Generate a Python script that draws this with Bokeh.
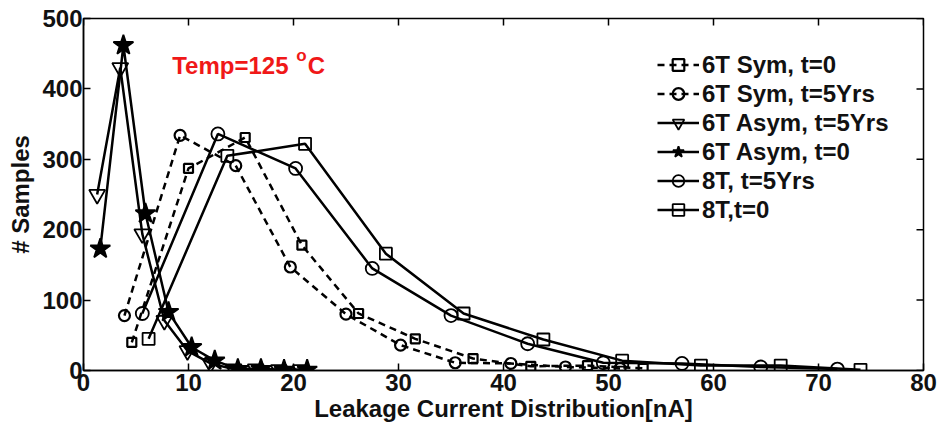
from bokeh.plotting import figure
from bokeh.models import Range1d, Label, Legend, LegendItem, FixedTicker
from bokeh.embed import file_html
from bokeh.resources import INLINE

# ---- data ----
sym_t0_x = [4.6, 10.0, 15.4, 20.8, 26.2, 31.6, 37.1, 42.6, 48.0, 53.3]
sym_t0_y = [40, 287, 331, 178, 81, 45, 17, 6, 7, 3]

sym_t5_x = [3.9, 9.2, 14.5, 19.7, 25.0, 30.2, 35.4, 40.7, 45.9, 51.1]
sym_t5_y = [78, 334, 291, 147, 80, 36, 11, 10, 5, 3]

asym_t5_x = [1.3, 3.5, 5.6, 7.7, 9.9, 12.1, 14.3, 16.4, 18.6, 20.7]
asym_t5_y = [250, 430, 194, 71, 28, 10, 2, 2, 1, 1]

asym_t0_x = [1.6, 3.8, 5.9, 8.1, 10.3, 12.5, 14.7, 16.9, 19.1, 21.3]
asym_t0_y = [173, 462, 223, 83, 33, 14, 2, 2, 1, 1]

t8_t5_x = [5.6, 12.8, 20.2, 27.5, 35.0, 42.3, 49.5, 57.0, 64.5, 71.8]
t8_t5_y = [81, 336, 287, 145, 78, 38, 11, 10, 5, 2]

t8_t0_x = [6.2, 13.7, 21.1, 28.8, 36.2, 43.8, 51.3, 58.8, 66.4, 74.0]
t8_t0_y = [45, 305, 322, 166, 81, 44, 14, 7, 7, 1]

x_ticks = [0, 10, 20, 30, 40, 50, 60, 70, 80]
y_ticks = [0, 100, 200, 300, 400, 500]
X_MIN, X_MAX = 0, 80
Y_MIN, Y_MAX = 0, 500

FONT = "Liberation Sans"
TXT = "#111111"

W, H = 941, 429
ML, MR, MT, MB = 83, 18, 18, 59

p = figure(width=W, height=H, output_backend="svg", toolbar_location=None,
           x_range=Range1d(X_MIN, X_MAX), y_range=Range1d(Y_MIN, Y_MAX),
           min_border_left=ML, min_border_right=MR, min_border_top=MT, min_border_bottom=MB)
p.xgrid.visible = False
p.ygrid.visible = False
p.outline_line_color = "black"
p.outline_line_width = 1.5
p.background_fill_color = "white"
p.border_fill_color = "white"

def style_axis(ax):
    ax.axis_line_color = "black"
    ax.axis_line_width = 1.5
    ax.major_tick_in = 7
    ax.major_tick_out = 0
    ax.major_tick_line_width = 1.5
    ax.minor_tick_line_color = None
    ax.major_label_text_font = FONT
    ax.major_label_text_font_style = "bold"
    ax.major_label_text_font_size = "24px"
    ax.major_label_text_color = TXT
    ax.axis_label_text_font = FONT
    ax.axis_label_text_font_style = "bold"
    ax.axis_label_text_font_size = "24px"
    ax.axis_label_text_color = TXT

p.xaxis.ticker = FixedTicker(ticks=x_ticks)
p.yaxis.ticker = FixedTicker(ticks=y_ticks)
style_axis(p.xaxis[0])
style_axis(p.yaxis[0])
p.xaxis.axis_label = "Leakage Current Distribution[nA]"
p.yaxis.axis_label = "# Samples"
p.xaxis.major_label_standoff = 3
p.xaxis.axis_label_standoff = 1
p.yaxis.major_label_standoff = 1
p.yaxis.axis_label_standoff = 5

# inward tick marks on the top and right frame edges (7 px long)
frame_w = W - ML - MR
frame_h = H - MT - MB
tx = 7 * (X_MAX - X_MIN) / frame_w
ty = 7 * (Y_MAX - Y_MIN) / frame_h
p.segment(x0=x_ticks, y0=[Y_MAX] * len(x_ticks), x1=x_ticks, y1=[Y_MAX - ty] * len(x_ticks),
          line_color="black", line_width=1.5)
p.segment(x0=[X_MAX] * len(y_ticks), y0=y_ticks, x1=[X_MAX - tx] * len(y_ticks), y1=y_ticks,
          line_color="black", line_width=1.5)

LW = 2.5
items = []

def series(x, y, marker, size, dash, label, filled=False, mlw=1.8):
    r1 = p.line(x, y, line_color="black", line_width=LW, line_dash=dash)
    r2 = p.scatter(x, y, marker=marker, size=size, line_color="black", line_width=mlw,
                   fill_color="black" if filled else None)
    items.append(LegendItem(label=label, renderers=[r1, r2]))

series(sym_t0_x, sym_t0_y, "square", 9, "7 5", "6T Sym, t=0", mlw=2.2)
series(sym_t5_x, sym_t5_y, "circle", 11, "7 5", "6T Sym, t=5Yrs", mlw=2.2)
series(asym_t5_x, asym_t5_y, "inverted_triangle", 16, "solid", "6T Asym, t=5Yrs")
series(asym_t0_x, asym_t0_y, "star", 21, "solid", "6T Asym, t=0", filled=True)
series(t8_t5_x, t8_t5_y, "circle", 13, "solid", "8T, t=5Yrs")
series(t8_t0_x, t8_t0_y, "square", 12, "solid", "8T,t=0")

legend = Legend(items=items, location=(574, 146))
legend.border_line_color = None
legend.background_fill_alpha = 0
legend.padding = 0
legend.margin = 0
legend.spacing = 0
legend.glyph_width = 42
legend.glyph_height = 29
legend.label_height = 29
legend.label_standoff = 3
legend.label_text_font = FONT
legend.label_text_font_style = "bold"
legend.label_text_font_size = "24px"
legend.label_text_color = TXT
legend.label_text_baseline = "middle"
legend.label_text_line_height = 1.0
p.add_layout(legend, "center")

RED = "#f01818"
p.add_layout(Label(x=8.45, y=433, text="Temp=125", text_font=FONT, text_font_style="bold",
                   text_font_size="24px", text_color=RED, text_baseline="alphabetic"))
p.add_layout(Label(x=20.25, y=447, text="o", text_font=FONT, text_font_style="bold",
                   text_font_size="17px", text_color=RED, text_baseline="alphabetic"))
p.add_layout(Label(x=21.35, y=433, text="C", text_font=FONT, text_font_style="bold",
                   text_font_size="24px", text_color=RED, text_baseline="alphabetic"))

open("out.html", "w").write(file_html(p, INLINE))
